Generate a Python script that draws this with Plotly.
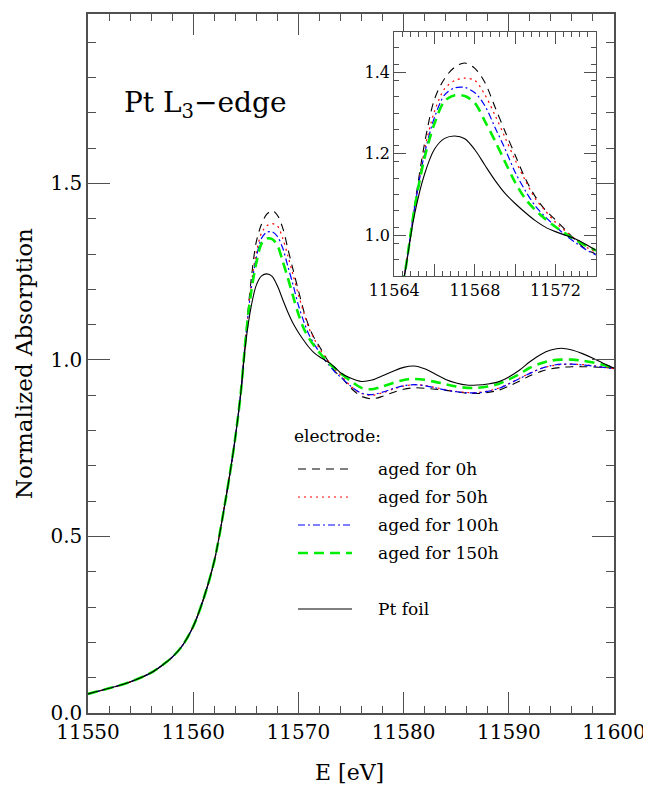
import plotly.graph_objects as go

# ---------------- data ----------------
energy = [11550, 11552, 11554, 11556, 11557, 11558, 11559, 11560, 11561, 11562, 11563, 11563.5,
          11564, 11564.5, 11565, 11565.5, 11566, 11566.5, 11567, 11567.5, 11568, 11568.5,
          11569, 11569.5, 11570, 11570.5, 11571, 11571.5, 11572, 11572.5, 11573, 11573.5,
          11574, 11575, 11576, 11577, 11578, 11579, 11580, 11581, 11582, 11583, 11584,
          11585, 11586, 11587, 11588, 11589, 11590, 11591, 11592, 11593, 11594, 11595,
          11596, 11597, 11598, 11599, 11600]

edge = [0.054, 0.070, 0.088, 0.114, 0.134, 0.158, 0.192, 0.245, 0.325, 0.430, 0.590, 0.680,
        0.780, 0.900]

aged_0h = edge + [1.070, 1.225, 1.335, 1.385, 1.413, 1.423, 1.410, 1.375,
                  1.315, 1.255, 1.197, 1.140, 1.095, 1.062, 1.038, 1.013, 0.988, 0.966,
                  0.954, 0.920, 0.897, 0.890, 0.897, 0.908, 0.917, 0.921, 0.920, 0.917, 0.914,
                  0.910, 0.906, 0.905, 0.908, 0.914, 0.926, 0.940, 0.955, 0.967, 0.975, 0.979,
                  0.981, 0.981, 0.980, 0.979, 0.977]
aged_50h = edge + [1.065, 1.210, 1.305, 1.360, 1.380, 1.386, 1.380, 1.345,
                   1.295, 1.240, 1.185, 1.135, 1.090, 1.060, 1.032, 1.010, 0.990, 0.972,
                   0.958, 0.925, 0.905, 0.900, 0.907, 0.917, 0.926, 0.930, 0.928, 0.922, 0.916,
                   0.911, 0.908, 0.908, 0.912, 0.920, 0.933, 0.948, 0.963, 0.975, 0.983, 0.987,
                   0.988, 0.987, 0.984, 0.980, 0.975]
aged_100h = edge + [1.065, 1.200, 1.290, 1.345, 1.362, 1.363, 1.350, 1.318,
                    1.265, 1.212, 1.155, 1.110, 1.072, 1.045, 1.022, 1.000, 0.982, 0.965,
                    0.952, 0.925, 0.906, 0.902, 0.909, 0.919, 0.927, 0.930, 0.927, 0.921, 0.915,
                    0.910, 0.907, 0.907, 0.911, 0.919, 0.932, 0.947, 0.962, 0.975, 0.984, 0.988,
                    0.988, 0.986, 0.983, 0.979, 0.975]
aged_150h = edge + [1.065, 1.190, 1.275, 1.330, 1.344, 1.342, 1.325, 1.280,
                    1.232, 1.180, 1.130, 1.090, 1.062, 1.040, 1.021, 1.004, 0.988, 0.975,
                    0.963, 0.940, 0.921, 0.917, 0.925, 0.935, 0.943, 0.946, 0.944, 0.938, 0.931,
                    0.925, 0.921, 0.921, 0.925, 0.932, 0.945, 0.960, 0.978, 0.990, 0.998, 1.001,
                    1.001, 0.998, 0.993, 0.986, 0.978]
pt_foil = edge + [1.050, 1.150, 1.212, 1.238, 1.244, 1.237, 1.210, 1.172,
                  1.135, 1.103, 1.078, 1.056, 1.036, 1.020, 1.009, 1.000, 0.991, 0.978,
                  0.964, 0.948, 0.939, 0.943, 0.955, 0.968, 0.979, 0.983, 0.975, 0.960, 0.945,
                  0.935, 0.929, 0.929, 0.932, 0.938, 0.952, 0.971, 0.995, 1.015, 1.028, 1.033,
                  1.028, 1.018, 1.005, 0.990, 0.977]

series_names = ["aged for 0h", "aged for 50h", "aged for 100h", "aged for 150h", "Pt foil"]
series_values = [aged_0h, aged_50h, aged_100h, aged_150h, pt_foil]
series_colors = ["black", "#ff0000", "#0000ff", "#00ee00", "black"]
series_dash = ["8px,6px", "2px,4px", "7px,3px,2px,3px", "10px,6px", "solid"]
series_width = [1.1, 1.2, 1.2, 2.6, 1.1]

main_xticks = [11550, 11560, 11570, 11580, 11590, 11600]
main_yticks = [0.0, 0.5, 1.0, 1.5]
inset_xticks = [11564, 11566, 11568, 11570, 11572, 11574]
inset_xticktext = ["11564", "", "11568", "", "11572", ""]
inset_yticks = [1.0, 1.2, 1.4]

# ---------------- figure ----------------
# page body has an 8px default margin, so the figure is placed at (8, 8)
OFF = 8
W, H = 651 - OFF, 785 - OFF
L, R, T, B = 88, 614, 14, 713          # plot area in window pixels
FONT = "DejaVu Serif"
AX = "#505050"


def px(x):
    return (x - L) / (R - L)


def py(y):
    return (B - y) / (B - T)


fig = go.Figure()
for name, vals, col, dash, w in zip(series_names, series_values, series_colors, series_dash, series_width):
    fig.add_trace(go.Scatter(x=energy, y=vals, mode="lines", name=name, showlegend=False,
                             line=dict(color=col, dash=dash, width=w, shape="spline", smoothing=0.9)))
for name, vals, col, dash, w in zip(series_names, series_values, series_colors, series_dash, series_width):
    fig.add_trace(go.Scatter(x=energy, y=vals, mode="lines", name=name, showlegend=False,
                             xaxis="x2", yaxis="y2",
                             line=dict(color=col, dash=dash, width=w, shape="spline", smoothing=0.9)))

axis_common = dict(showline=True, linecolor=AX, linewidth=1.5, mirror="ticks", ticks="inside",
                   tickcolor=AX, tickwidth=1.3, showgrid=False, zeroline=False, automargin=False,
                   tickfont=dict(family=FONT, size=20, color="black"))
inset_common = dict(showline=True, linecolor=AX, linewidth=1.3, mirror="ticks", ticks="inside",
                    tickcolor=AX, tickwidth=1.1, showgrid=False, zeroline=False, automargin=False,
                    tickfont=dict(family=FONT, size=16, color="black"))

fig.update_layout(
    width=W, height=H,
    margin=dict(l=L - OFF, r=W - (R - OFF), t=T - OFF, b=H - (B - OFF), autoexpand=False),
    paper_bgcolor="white", plot_bgcolor="white",
    showlegend=False,
    xaxis=dict(range=[11550, 11600], tickvals=main_xticks, tickformat="d", ticklen=21,
               minor=dict(dtick=2, tick0=11550, ticklen=7, ticks="inside", tickcolor=AX, tickwidth=1.3),
               domain=[0, 1], **axis_common),
    yaxis=dict(range=[0, 1.98], tickvals=main_yticks, tickformat=".1f", ticklen=22,
               minor=dict(dtick=0.1, tick0=0, ticklen=8, ticks="inside", tickcolor=AX, tickwidth=1.3),
               domain=[0, 1], **axis_common),
    xaxis2=dict(range=[11564, 11574], tickvals=inset_xticks, ticktext=inset_xticktext, ticklen=12,
                minor=dict(dtick=0.4, tick0=11564, ticklen=5, ticks="inside", tickcolor=AX, tickwidth=1.1),
                domain=[px(394.3), px(595.7)], anchor="y2", **inset_common),
    yaxis2=dict(range=[0.9, 1.5], tickvals=inset_yticks, tickformat=".1f", ticklen=12,
                minor=dict(dtick=0.04, tick0=0.9, ticklen=5, ticks="inside", tickcolor=AX, tickwidth=1.1),
                domain=[py(276), py(31.7)], anchor="x2", **inset_common),
)

annots = [
    dict(text="Pt L<sub>3</sub>\u2212edge", x=px(122), y=py(104), xanchor="left", yanchor="middle",
         font=dict(family=FONT, size=28, color="black")),
    dict(text="E [eV]", x=px(349), y=py(772), xanchor="center", yanchor="middle",
         font=dict(family=FONT, size=22, color="black")),
    dict(text="Normalized Absorption", x=px(24), y=py(364), xanchor="center", yanchor="middle",
         textangle=-90, font=dict(family=FONT, size=23, color="black")),
    dict(text="electrode:", x=px(292), y=py(436), xanchor="left", yanchor="middle",
         font=dict(family=FONT, size=17, color="black")),
]
leg_y = [469, 497, 525, 553, 609]
shapes = []
for yy, name, col, dash, w in zip(leg_y, series_names, series_colors, series_dash, series_width):
    shapes.append(dict(type="line", xref="paper", yref="paper", x0=px(298), x1=px(352),
                       y0=py(yy), y1=py(yy), line=dict(color=col, dash=dash, width=w)))
    annots.append(dict(text=name, x=px(376), y=py(yy), xanchor="left", yanchor="middle",
                       font=dict(family=FONT, size=17, color="black")))
for a in annots:
    a.update(xref="paper", yref="paper", showarrow=False)
fig.update_layout(annotations=annots, shapes=shapes)

fig.write_html("out.html")
